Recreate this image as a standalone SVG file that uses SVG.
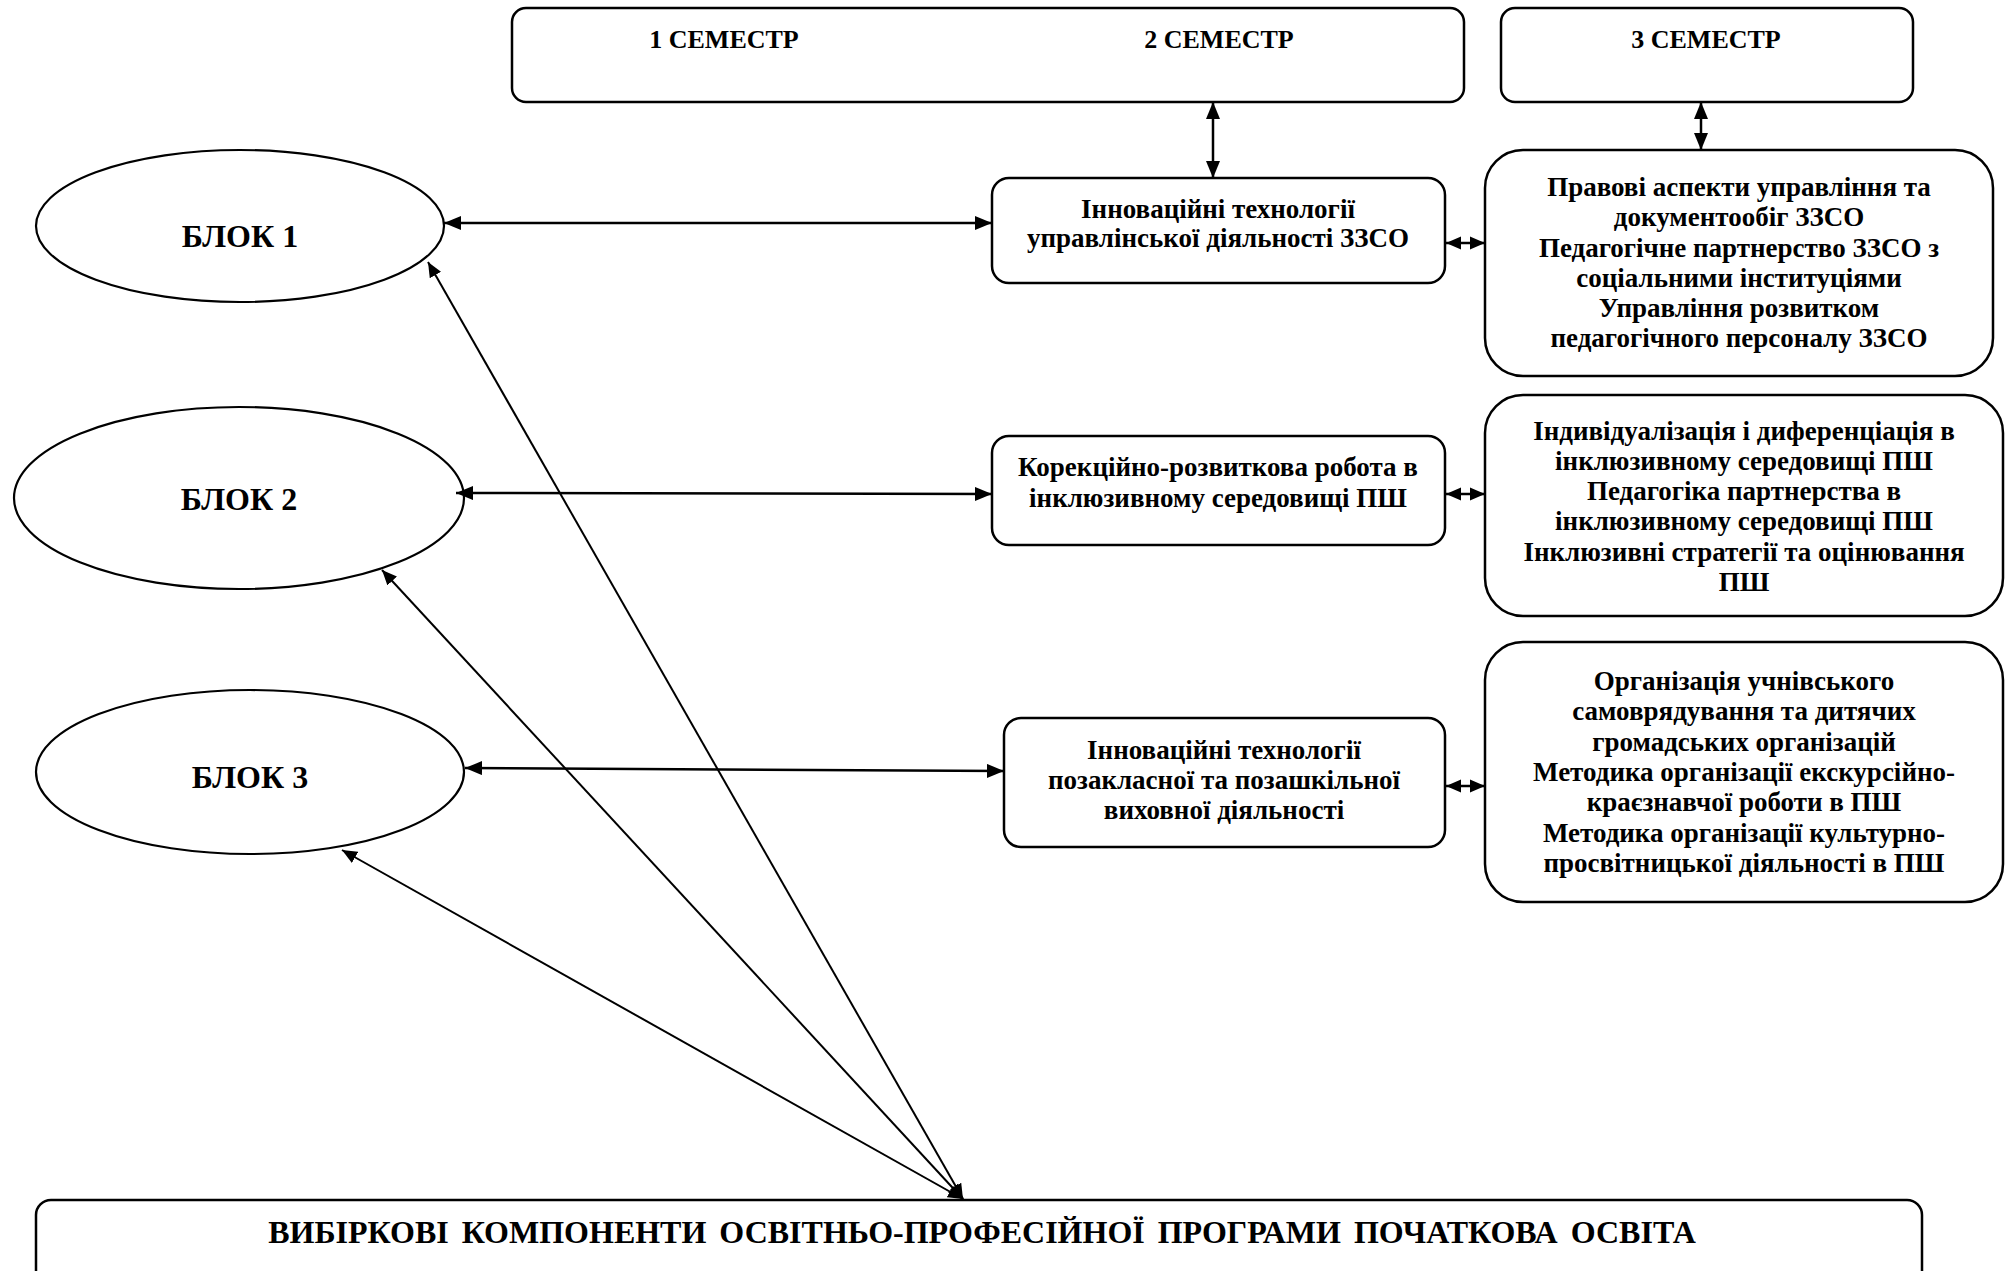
<svg xmlns="http://www.w3.org/2000/svg" width="2013" height="1271" viewBox="0 0 2013 1271">
<style>
.box{fill:#fff;stroke:#000;stroke-width:2.5}
.ell{fill:#fff;stroke:#000;stroke-width:2.2}
.t{font-family:"Liberation Serif","Times New Roman",serif;font-weight:bold;font-size:27px;fill:#000;text-anchor:middle}
.sem{font-size:26px}
.blk{font-size:32px}
.ttl{font-size:32px;word-spacing:5px}
.c{stroke:#000;stroke-width:2.5;fill:none}
.d{stroke:#000;stroke-width:2;fill:none}
</style>
<defs>
<marker id="ah" markerUnits="userSpaceOnUse" markerWidth="18" markerHeight="14" refX="17" refY="7" orient="auto-start-reverse">
<path d="M0,0 L17,7 L0,14 z" fill="#000"/>
</marker>
<marker id="as" markerUnits="userSpaceOnUse" markerWidth="16" markerHeight="14" refX="15" refY="7" orient="auto-start-reverse">
<path d="M0,0.5 L15,7 L0,13.5 z" fill="#000"/>
</marker>
</defs>
<rect width="2013" height="1271" fill="#fff"/>

<g id="sem12">
<rect class="box" x="512" y="8" width="952" height="94" rx="14"/>
<text class="t sem" x="724" y="48">1 СЕМЕСТР</text>
<text class="t sem" x="1219" y="48">2 СЕМЕСТР</text>
</g>
<g id="sem3">
<rect class="box" x="1501" y="8" width="412" height="94" rx="14"/>
<text class="t sem" x="1706" y="48">3 СЕМЕСТР</text>
</g>

<g id="blok1">
<ellipse class="ell" cx="240" cy="226" rx="204" ry="76"/>
<text class="t blk" x="240" y="247">БЛОК 1</text>
</g>
<g id="blok2">
<ellipse class="ell" cx="239" cy="498" rx="225" ry="91"/>
<text class="t blk" x="239" y="510">БЛОК 2</text>
</g>
<g id="blok3">
<ellipse class="ell" cx="250" cy="772" rx="214" ry="82"/>
<text class="t blk" x="250" y="788">БЛОК 3</text>
</g>

<g id="mid1">
<rect class="box" x="992" y="178" width="453" height="105" rx="17"/>
<text class="t" x="1218" y="218">Інноваційні технології</text>
<text class="t" x="1218" y="247">управлінської діяльності ЗЗСО</text>
</g>
<g id="mid2">
<rect class="box" x="992" y="436" width="453" height="109" rx="17"/>
<text class="t" x="1218" y="476">Корекційно-розвиткова робота в</text>
<text class="t" x="1218" y="507">інклюзивному середовищі ПШ</text>
</g>
<g id="mid3">
<rect class="box" x="1004" y="718" width="441" height="129" rx="17"/>
<text class="t" x="1224" y="759">Інноваційні технології</text>
<text class="t" x="1224" y="789">позакласної та позашкільної</text>
<text class="t" x="1224" y="819">виховної діяльності</text>
</g>

<g id="right1">
<rect class="box" x="1485" y="150" width="508" height="226" rx="38"/>
<text class="t" x="1739" y="196">Правові аспекти управління та</text>
<text class="t" x="1739" y="226">документообіг ЗЗСО</text>
<text class="t" x="1739" y="257">Педагогічне партнерство ЗЗСО з</text>
<text class="t" x="1739" y="287">соціальними інституціями</text>
<text class="t" x="1739" y="317">Управління розвитком</text>
<text class="t" x="1739" y="347">педагогічного персоналу ЗЗСО</text>
</g>
<g id="right2">
<rect class="box" x="1485" y="395" width="518" height="221" rx="38"/>
<text class="t" x="1744" y="440">Індивідуалізація і диференціація в</text>
<text class="t" x="1744" y="470">інклюзивному середовищі ПШ</text>
<text class="t" x="1744" y="500">Педагогіка партнерства в</text>
<text class="t" x="1744" y="530">інклюзивному середовищі ПШ</text>
<text class="t" x="1744" y="561">Інклюзивні стратегії та оцінювання</text>
<text class="t" x="1744" y="591">ПШ</text>
</g>
<g id="right3">
<rect class="box" x="1485" y="642" width="518" height="260" rx="38"/>
<text class="t" x="1744" y="690">Організація учнівського</text>
<text class="t" x="1744" y="720">самоврядування та дитячих</text>
<text class="t" x="1744" y="751">громадських організацій</text>
<text class="t" x="1744" y="781">Методика організації екскурсійно-</text>
<text class="t" x="1744" y="811">краєзнавчої роботи в ПШ</text>
<text class="t" x="1744" y="842">Методика організації культурно-</text>
<text class="t" x="1744" y="872">просвітницької діяльності в ПШ</text>
</g>

<g id="bottom">
<rect class="box" x="36" y="1200" width="1886" height="100" rx="15"/>
<text class="t ttl" x="982" y="1243">ВИБІРКОВІ КОМПОНЕНТИ ОСВІТНЬО-ПРОФЕСІЙНОЇ ПРОГРАМИ ПОЧАТКОВА ОСВІТА</text>
</g>

<g id="connectors">
<line class="c" x1="444" y1="223" x2="992" y2="223" marker-start="url(#ah)" marker-end="url(#ah)"/>
<line class="c" x1="456" y1="493" x2="992" y2="494" marker-start="url(#ah)" marker-end="url(#ah)"/>
<line class="c" x1="465" y1="768" x2="1004" y2="771" marker-start="url(#ah)" marker-end="url(#ah)"/>
<line class="c" x1="1213" y1="102" x2="1213" y2="178" marker-start="url(#ah)" marker-end="url(#ah)"/>
<line class="c" x1="1701" y1="102" x2="1701" y2="150" marker-start="url(#ah)" marker-end="url(#ah)"/>
<line class="c" x1="1446" y1="243" x2="1485" y2="243" marker-start="url(#as)" marker-end="url(#as)"/>
<line class="c" x1="1446" y1="494" x2="1485" y2="494" marker-start="url(#as)" marker-end="url(#as)"/>
<line class="c" x1="1446" y1="786" x2="1485" y2="786" marker-start="url(#as)" marker-end="url(#as)"/>
<line class="d" x1="963" y1="1199" x2="428" y2="262" marker-start="url(#as)" marker-end="url(#as)"/>
<line class="d" x1="963" y1="1199" x2="382" y2="570" marker-start="url(#as)" marker-end="url(#as)"/>
<line class="d" x1="963" y1="1199" x2="342" y2="850" marker-start="url(#as)" marker-end="url(#as)"/>
</g>
</svg>
